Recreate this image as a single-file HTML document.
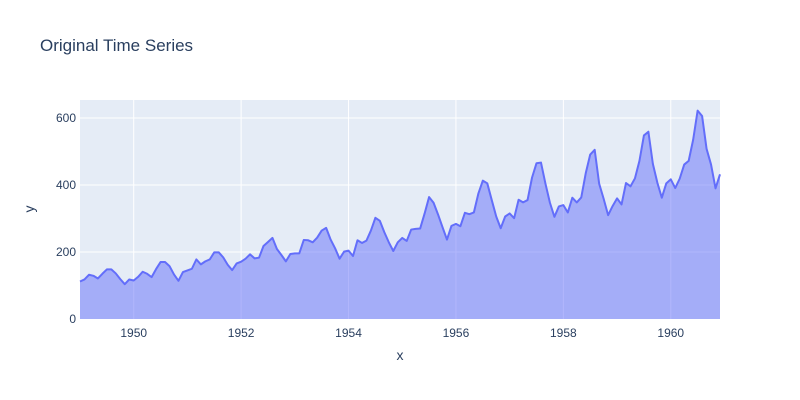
<!DOCTYPE html>
<html><head><meta charset="utf-8"><style>
body{margin:0;background:#fff;}
svg{display:block;font-family:"Liberation Sans",Arial,sans-serif;}
</style></head><body>
<svg id="chart" width="800" height="400">
<rect x="0" y="0" width="800" height="400" fill="#fff"/>
<rect x="80" y="100" width="640" height="219" fill="#E5ECF6"/>
<g id="grid"></g>
<g id="series"></g>
<g id="ticks"></g>
<text x="40" y="51" font-size="17" fill="#2a3f5f">Original Time Series</text>
<text x="400" y="360" font-size="14" fill="#2a3f5f" text-anchor="middle">x</text>
<text x="34" y="209" font-size="14" fill="#2a3f5f" text-anchor="middle" transform="rotate(-90 34 209)">y</text>
</svg>
<script>
const years = [1949,1950,1951,1952,1953,1954,1955,1956,1957,1958,1959,1960];
const passengers = [
112,118,132,129,121,135,148,148,136,119,104,118,
115,126,141,135,125,149,170,170,158,133,114,140,
145,150,178,163,172,178,199,199,184,162,146,166,
171,180,193,181,183,218,230,242,209,191,172,194,
196,196,236,235,229,243,264,272,237,211,180,201,
204,188,235,227,234,264,302,293,259,229,203,229,
242,233,267,269,270,315,364,347,312,274,237,278,
284,277,317,313,318,374,413,405,355,306,271,306,
315,301,356,348,355,422,465,467,404,347,305,336,
340,318,362,348,363,435,491,505,404,359,310,337,
360,342,406,396,420,472,548,559,463,407,362,405,
417,391,419,461,472,535,622,606,508,461,390,432];
const xTickYears = [1950,1952,1954,1956,1958,1960];
const yTicks = [0,200,400,600];

const NS="http://www.w3.org/2000/svg";
const X0=80,X1=720,Y0=319,YTOP=118;
const startT=1949, endT=1960+11/12;
function xs(t){return X0+(t-startT)/(endT-startT)*(X1-X0);}
function ys(v){return Y0-v/600*(Y0-YTOP);}
function mk(tag,attrs,parent){const e=document.createElementNS(NS,tag);for(const k in attrs)e.setAttribute(k,attrs[k]);parent.appendChild(e);return e;}
const grid=document.getElementById('grid'),ticks=document.getElementById('ticks'),series=document.getElementById('series');
yTicks.forEach(v=>{
  if(v>0){const l=mk('line',{x1:X0,x2:X1,y1:ys(v),y2:ys(v),stroke:'#fff','stroke-width':1},grid);
  
  }
  const t=mk('text',{x:X0-4,y:ys(v)+4,'font-size':12,fill:'#2a3f5f','text-anchor':'end'},ticks);
  t.textContent=v;
  
  
});
xTickYears.forEach(yr=>{
  const x=xs(yr);
  const l=mk('line',{x1:x,x2:x,y1:100,y2:Y0,stroke:'#fff','stroke-width':1},grid);
  
  
  const t=mk('text',{x:x,y:Y0+18,'font-size':12,fill:'#2a3f5f','text-anchor':'middle'},ticks);
  t.textContent=yr;
  
  
});
let pts=passengers.map((v,i)=>xs(startT+i/12).toFixed(2)+','+ys(v).toFixed(2));
const area=mk('path',{d:'M'+xs(startT)+','+Y0+' L'+pts.join(' L')+' L'+xs(endT)+','+Y0+' Z',fill:'rgba(99,110,250,0.5)',stroke:'none'},series);


const line=mk('path',{d:'M'+pts.join(' L'),fill:'none',stroke:'#636efa','stroke-width':2,'stroke-linejoin':'round'},series);


</script>
</body></html>
